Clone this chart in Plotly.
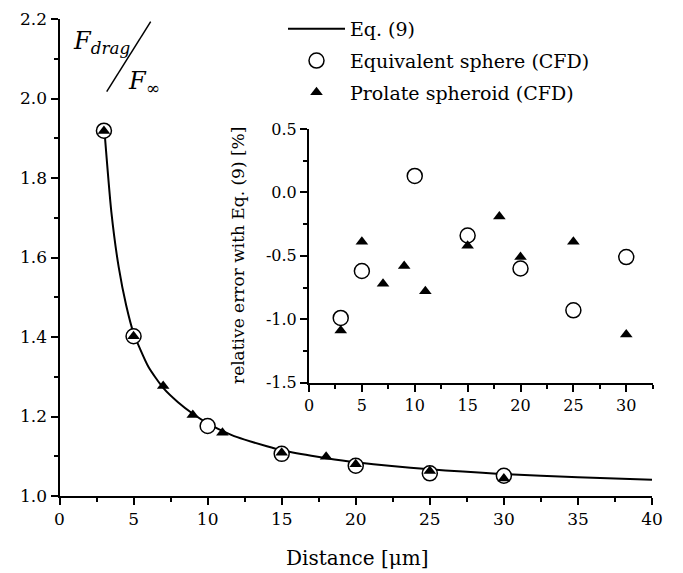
import plotly.graph_objects as go

# ---- data ----
eq_x = [3, 3.5, 4, 4.5, 5, 6, 7, 8, 9, 10, 11, 12, 14, 15, 17, 18, 20, 25, 30, 35, 40]
eq_y = [1.935, 1.715, 1.575, 1.48, 1.41, 1.325, 1.272, 1.236, 1.207, 1.183, 1.164,
        1.148, 1.125, 1.115, 1.101, 1.095, 1.085, 1.067, 1.055, 1.047, 1.041]

sphere_x = [3, 5, 10, 15, 20, 25, 30]
sphere_y = [1.919, 1.402, 1.176, 1.106, 1.076, 1.057, 1.051]

prolate_x = [3, 5, 7, 9, 11, 15, 18, 20, 25, 30]
prolate_y = [1.918, 1.402, 1.277, 1.204, 1.159, 1.109, 1.099, 1.080, 1.063, 1.044]

sphere_err = [-0.99, -0.62, 0.13, -0.34, -0.60, -0.93, -0.51]
prolate_err = [-1.09, -0.39, -0.72, -0.58, -0.78, -0.42, -0.19, -0.51, -0.39, -1.12]

main_x_ticks = [0, 5, 10, 15, 20, 25, 30, 35, 40]
main_y_ticks = [1.0, 1.2, 1.4, 1.6, 1.8, 2.0, 2.2]
main_y_labels = ["1.0", "1.2", "1.4", "1.6", "1.8", "2.0", "2.2"]
inset_x_ticks = [0, 5, 10, 15, 20, 25, 30]
inset_y_ticks = [-1.5, -1.0, -0.5, 0.0, 0.5]
inset_y_labels = ["-1.5", "-1.0", "-0.5", "0.0", "0.5"]

FONT = "DejaVu Serif"
OFF = 8            # page body margin of the browser
W, H = 683 - OFF, 573 - OFF

fig = go.Figure()

fig.add_trace(go.Scatter(x=eq_x, y=eq_y, mode="lines", name="Eq. (9)", legendgroup="a",
                         line=dict(color="black", width=2, shape="spline", smoothing=0.6),
                         xaxis="x", yaxis="y"))
fig.add_trace(go.Scatter(x=sphere_x, y=sphere_y, mode="markers", name="Equivalent sphere (CFD)",
                         legendgroup="b",
                         marker=dict(symbol="circle", size=15, color="white",
                                     line=dict(color="black", width=1.5)),
                         xaxis="x", yaxis="y"))
fig.add_trace(go.Scatter(x=prolate_x, y=prolate_y, mode="markers", name="Prolate spheroid (CFD)",
                         legendgroup="c",
                         marker=dict(symbol="triangle-up", size=11, color="black",
                                     line=dict(color="black", width=0)),
                         xaxis="x", yaxis="y"))

# inset
fig.add_trace(go.Scatter(x=sphere_x, y=sphere_err, mode="markers", showlegend=False,
                         marker=dict(symbol="circle", size=15, color="white",
                                     line=dict(color="black", width=1.5)),
                         xaxis="x2", yaxis="y2"))
fig.add_trace(go.Scatter(x=prolate_x, y=prolate_err, mode="markers", showlegend=False,
                         marker=dict(symbol="triangle-up", size=11, color="black",
                                     line=dict(color="black", width=0)),
                         xaxis="x2", yaxis="y2"))

def px_x(p):
    return (p - OFF) / W

def px_y(p):
    return 1 - (p - OFF) / H

axis_common = dict(showgrid=False, zeroline=False, showline=True, linecolor="black",
                   linewidth=2, ticks="outside", tickcolor="black", tickwidth=2,
                   mirror=False, automargin=False)

fig.update_layout(
    width=W, height=H,
    margin=dict(l=0, r=0, t=0, b=0, autoexpand=False),
    paper_bgcolor="white", plot_bgcolor="rgba(0,0,0,0)",
    font=dict(family=FONT, color="black", size=17),
    xaxis=dict(domain=[px_x(59.5), px_x(652)], range=[0, 40], anchor="y",
               tickvals=main_x_ticks, ticklen=7,
               tickfont=dict(size=17, family=FONT),
               minor=dict(dtick=2.5, tick0=0, ticks="outside", ticklen=4,
                          tickcolor="black", tickwidth=2),
               **axis_common),
    yaxis=dict(domain=[px_y(496), px_y(19)], range=[1.0, 2.2], anchor="x",
               tickvals=main_y_ticks, ticktext=main_y_labels, ticklen=7,
               tickfont=dict(size=17, family=FONT),
               ticklabeloverflow="allow",
               minor=dict(dtick=0.1, tick0=1.0, ticks="outside", ticklen=4,
                          tickcolor="black", tickwidth=2),
               **axis_common),
    xaxis2=dict(domain=[px_x(309), px_x(652.7)], range=[0, 32.5], anchor="y2",
                tickvals=inset_x_ticks, ticklen=7,
                tickfont=dict(size=16, family=FONT),
                minor=dict(dtick=2.5, tick0=0, ticks="outside", ticklen=4,
                           tickcolor="black", tickwidth=2),
                **axis_common),
    yaxis2=dict(domain=[px_y(382.6), px_y(129)], range=[-1.5, 0.5], anchor="x2",
                tickvals=inset_y_ticks, ticktext=inset_y_labels, ticklen=7,
                tickfont=dict(size=16, family=FONT),
                minor=dict(dtick=0.25, tick0=0, ticks="outside", ticklen=4,
                           tickcolor="black", tickwidth=2),
                **axis_common),
    showlegend=True,
    legend=dict(x=px_x(283), y=px_y(10), xanchor="left", yanchor="top",
                bgcolor="rgba(0,0,0,0)", borderwidth=0,
                font=dict(size=19, family=FONT, color="black"),
                itemwidth=57, tracegroupgap=4),
)

# axis titles as annotations
fig.add_annotation(text="Distance [μm]", xref="paper", yref="paper",
                   x=px_x(357), y=px_y(558), showarrow=False,
                   font=dict(size=20, family=FONT), xanchor="center", yanchor="middle")
fig.add_annotation(text="relative error with Eq. (9) [%]", xref="paper", yref="paper",
                   x=px_x(238), y=px_y(256), showarrow=False, textangle=-90,
                   font=dict(size=17, family=FONT), xanchor="center", yanchor="middle")

# F_drag / F_inf label
fig.add_annotation(text="<i>F</i><sub><i>drag</i></sub>", xref="paper", yref="paper",
                   x=px_x(71), y=px_y(42), showarrow=False,
                   font=dict(size=24, family=FONT), xanchor="left", yanchor="middle")
fig.add_annotation(text="<i>F</i><sub>∞</sub>", xref="paper", yref="paper",
                   x=px_x(126), y=px_y(82), showarrow=False,
                   font=dict(size=24, family=FONT), xanchor="left", yanchor="middle")
fig.add_shape(type="line", xref="paper", yref="paper",
              x0=px_x(106.7), y0=px_y(91.7), x1=px_x(150.7), y1=px_y(21.7),
              line=dict(color="black", width=1.5))

fig.write_html("out.html")
